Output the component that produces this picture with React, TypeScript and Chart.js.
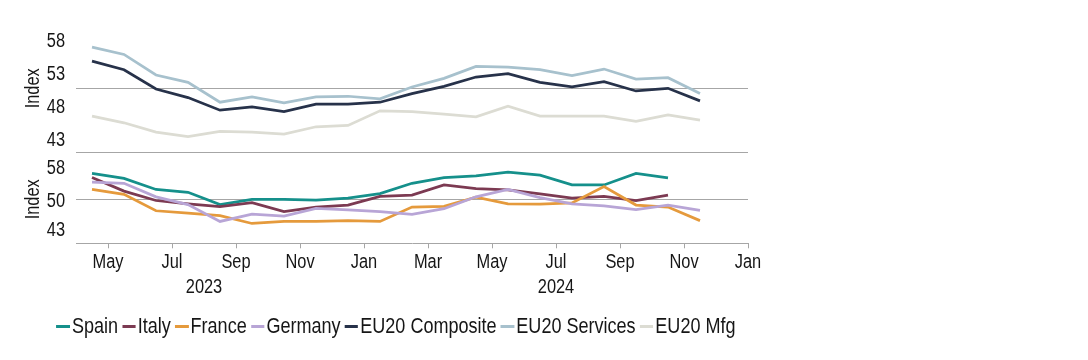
import React, { useEffect, useRef } from 'react';
import { Chart, registerables } from 'chart.js';

Chart.register(...registerables);

// ---------- data ----------
const months = [
  'Apr 2023', 'May 2023', 'Jun 2023', 'Jul 2023', 'Aug 2023', 'Sep 2023', 'Oct 2023', 'Nov 2023', 'Dec 2023',
  'Jan 2024', 'Feb 2024', 'Mar 2024', 'Apr 2024', 'May 2024', 'Jun 2024', 'Jul 2024', 'Aug 2024', 'Sep 2024',
  'Oct 2024', 'Nov 2024',
];
const spain = [56.3, 55.1, 52.4, 51.7, 48.7, 50.0, 50.0, 49.8, 50.3, 51.4, 53.9, 55.3, 55.7, 56.6, 55.9, 53.5, 53.5, 56.3, 55.2];
const italy = [55.3, 52.0, 49.7, 48.9, 48.2, 49.2, 47.0, 48.1, 48.6, 50.7, 51.0, 53.5, 52.6, 52.3, 51.3, 50.3, 50.7, 49.7, 51.0];
const france = [52.4, 51.2, 47.2, 46.6, 46.0, 44.1, 44.6, 44.6, 44.8, 44.6, 48.1, 48.3, 50.5, 48.9, 48.8, 49.1, 53.1, 48.6, 48.1, 44.8];
const germany = [54.2, 53.9, 50.6, 48.7, 44.6, 46.4, 45.9, 47.8, 47.4, 47.0, 46.3, 47.7, 50.6, 52.4, 50.4, 48.9, 48.4, 47.5, 48.6, 47.3];
const euComposite = [54.1, 52.8, 49.9, 48.6, 46.7, 47.2, 46.5, 47.6, 47.6, 47.9, 49.2, 50.3, 51.7, 52.2, 50.9, 50.2, 51.0, 49.6, 50.0, 48.1];
const euServices = [56.2, 55.1, 52.0, 50.9, 47.9, 48.7, 47.8, 48.7, 48.8, 48.4, 50.2, 51.5, 53.3, 53.2, 52.8, 51.9, 52.9, 51.4, 51.6, 49.2];
const euMfg = [45.8, 44.8, 43.4, 42.7, 43.5, 43.4, 43.1, 44.2, 44.4, 46.6, 46.5, 46.1, 45.7, 47.3, 45.8, 45.8, 45.8, 45.0, 46.0, 45.2];

// x axis: month index counted from 1 Apr 2023
const xTickValues = [1, 3, 5, 7, 9, 11, 13, 15, 17, 19, 21];
const xTickLabels = ['May', 'Jul', 'Sep', 'Nov', 'Jan', 'Mar', 'May', 'Jul', 'Sep', 'Nov', 'Jan'];
const yearLabels = ['2023', '2024'];
const yearCenters = [4, 15];
const topTicks = [43, 48, 53, 58];
const bottomTicks = [43, 50, 58];
const yTitle = 'Index';
const REF_VALUE = 50;

// ---------- styling ----------
const GRID = '#a6a6a6';
const TEXT = '#161616';
const CLEAR = 'rgba(0,0,0,0)';
const FAMILY = '"Liberation Sans", Arial, sans-serif';
const AXIS_SIZE = 20;
const LEGEND_SIZE = 22;
const SX = 0.82; // horizontal condensing to mimic a narrow face

const series = [
  { label: 'Spain', data: spain, color: '#15908b', axis: 'yB' },
  { label: 'Italy', data: italy, color: '#7c3a52', axis: 'yB' },
  { label: 'France', data: france, color: '#e59a3c', axis: 'yB' },
  { label: 'Germany', data: germany, color: '#b8a5d6', axis: 'yB' },
  { label: 'EU20 Composite', data: euComposite, color: '#27324a', axis: 'yT' },
  { label: 'EU20 Services', data: euServices, color: '#a7c1cd', axis: 'yT' },
  { label: 'EU20 Mfg', data: euMfg, color: '#dcdcd3', axis: 'yT' },
];

function narrowText(ctx: CanvasRenderingContext2D, text: string, x: number, y: number, align: CanvasTextAlign, rot = 0) {
  ctx.save();
  ctx.translate(x, y);
  if (rot) ctx.rotate(rot);
  ctx.scale(SX, 1);
  ctx.textAlign = align;
  ctx.textBaseline = 'middle';
  ctx.fillText(text, 0, 0);
  ctx.restore();
}

const panelPlugin = {
  id: 'panelPlugin',
  beforeDatasetsDraw(chart: any) {
    const { ctx, chartArea } = chart;
    ctx.save();
    ctx.strokeStyle = GRID;
    ctx.lineWidth = 1;
    const ys: number[] = [];
    for (const id of ['yT', 'yB']) ys.push(chart.scales[id].getPixelForValue(REF_VALUE));
    ys.push(chart.scales.yT.bottom);
    for (const y of ys) {
      const yy = Math.round(y) + 0.5;
      ctx.beginPath();
      ctx.moveTo(chartArea.left, yy);
      ctx.lineTo(chartArea.right, yy);
      ctx.stroke();
    }
    ctx.restore();
  },
  afterDraw(chart: any) {
    const { ctx } = chart;
    const xs = chart.scales.x;
    const yT = chart.scales.yT;
    const yB = chart.scales.yB;
    ctx.save();
    ctx.fillStyle = TEXT;
    ctx.font = `${AXIS_SIZE}px ${FAMILY}`;
    xTickValues.forEach((v, i) => {
      narrowText(ctx, xTickLabels[i], xs.getPixelForValue(v), xs.top + 19, 'center');
    });
    yearLabels.forEach((t, i) => {
      narrowText(ctx, t, xs.getPixelForValue(yearCenters[i]), xs.top + 44.5, 'center');
    });
    topTicks.forEach((v) => narrowText(ctx, String(v), yT.right - 11, yT.getPixelForValue(v) + 5.8, 'right'));
    bottomTicks.forEach((v) => narrowText(ctx, String(v), yB.right - 11, yB.getPixelForValue(v) + 2.5, 'right'));
    for (const s of [yT, yB]) {
      narrowText(ctx, yTitle, 33.5, s.getPixelForValue(REF_VALUE), 'center', -Math.PI / 2);
    }
    ctx.restore();
  },
};

export default function App() {
  const ref = useRef<HTMLCanvasElement | null>(null);

  useEffect(() => {
    if (!ref.current) return;
    Chart.defaults.font.family = FAMILY;
    const font = { family: FAMILY, size: AXIS_SIZE };
    const chart = new Chart(ref.current, {
      type: 'line',
      data: {
        datasets: series.map((s, k) => ({
          label: s.label,
          data: s.data.map((v, i) => ({ x: i + 0.5, y: v })),
          borderColor: s.color,
          backgroundColor: s.color,
          borderWidth: 2.75,
          pointRadius: 0,
          tension: 0,
          fill: false,
          yAxisID: s.axis,
          order: series.length - k,
        })),
      },
      options: {
        animation: false,
        responsive: false,
        devicePixelRatio: 1,
        events: [],
        layout: { padding: { left: 17.5, right: 340, top: 28.6, bottom: 76.7 } },
        plugins: { legend: { display: false }, tooltip: { enabled: false } },
        scales: {
          x: {
            type: 'linear',
            min: 0,
            max: 21,
            afterBuildTicks: (s: any) => {
              s.ticks = xTickValues.map((v) => ({ value: v }));
            },
            afterFit: (s: any) => {
              s.height = 40;
            },
            ticks: {
              callback: (_v: any, i: number) => xTickLabels[i],
              font,
              color: CLEAR,
              padding: 2,
              maxRotation: 0,
              autoSkip: false,
            },
            grid: { drawOnChartArea: false, drawTicks: true, tickLength: 5, color: GRID },
            border: { display: true, color: GRID },
          },
          yB: {
            type: 'linear',
            position: 'left',
            stack: 'panels',
            stackWeight: 91.6,
            min: 39.27,
            max: 61.6,
            afterBuildTicks: (s: any) => {
              s.ticks = bottomTicks.map((v) => ({ value: v }));
            },
            afterFit: (s: any) => {
              s.width = 58.5;
            },
            ticks: { font, color: CLEAR, padding: 11 },
            grid: { display: false, drawTicks: false },
            border: { display: false },
            title: { display: true, text: yTitle, font, color: CLEAR },
          },
          yT: {
            type: 'linear',
            position: 'left',
            stack: 'panels',
            stackWeight: 123.1,
            min: 40.44,
            max: 59,
            afterBuildTicks: (s: any) => {
              s.ticks = topTicks.map((v) => ({ value: v }));
            },
            afterFit: (s: any) => {
              s.width = 58.5;
            },
            ticks: { font, color: CLEAR, padding: 11 },
            grid: { display: false, drawTicks: false },
            border: { display: false },
            title: { display: true, text: yTitle, font, color: CLEAR },
          },
        },
      } as any,
      plugins: [panelPlugin],
    });
    return () => chart.destroy();
  }, []);

  return (
    <div style={{ position: 'absolute', left: 0, top: 0, width: 1088, height: 360, background: '#fff' }}>
      <canvas ref={ref} width={1088} height={360} style={{ display: 'block', width: 1088, height: 360 }} />
      <div
        style={{
          position: 'absolute',
          left: 0,
          top: 314,
          width: 796,
          display: 'flex',
          justifyContent: 'center',
          alignItems: 'center',
          fontFamily: FAMILY,
          fontSize: LEGEND_SIZE,
          lineHeight: '24px',
          color: TEXT,
          whiteSpace: 'nowrap',
          transform: `scaleX(${SX})`,
          transformOrigin: '398px 50%',
        }}
      >
        {series.map((s) => (
          <div key={s.label} style={{ display: 'flex', alignItems: 'center', marginRight: 5 }}>
            <span style={{ display: 'inline-block', width: 16.5, height: 3, background: s.color, marginRight: 2.5 }} />
            <span>{s.label}</span>
          </div>
        ))}
      </div>
    </div>
  );
}
